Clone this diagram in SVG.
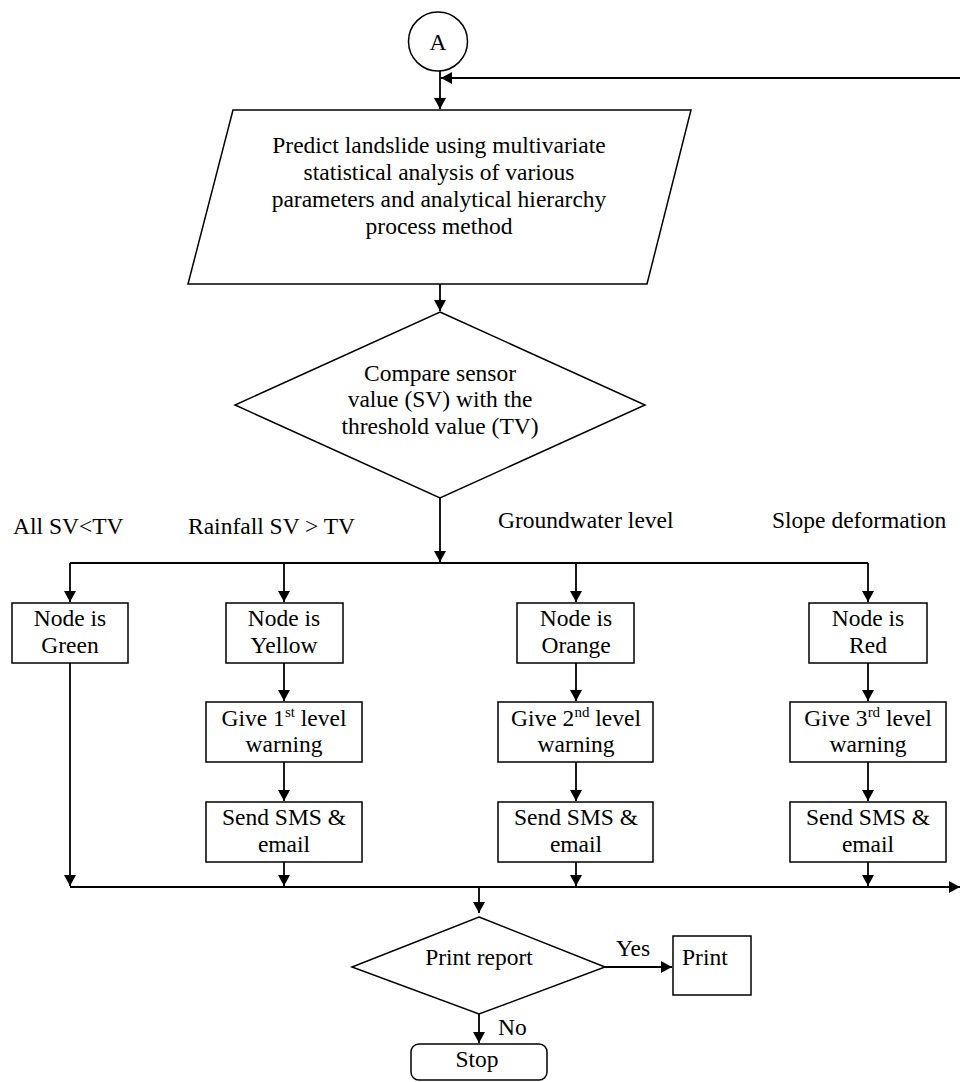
<svg xmlns="http://www.w3.org/2000/svg" width="960" height="1082" viewBox="0 0 960 1082">
<style>
  .shape { fill: #fff; stroke: #000; stroke-width: 1.5; }
  .conn { fill: none; stroke: #000; stroke-width: 1.8; }
  text { font-family: "Liberation Serif", "Times New Roman", serif; font-size: 23.5px; fill: #000; }
  .c { text-anchor: middle; }
</style>
<defs>
  <marker id="arr" viewBox="0 0 11 12" refX="11" refY="6" markerWidth="11" markerHeight="12" markerUnits="userSpaceOnUse" orient="auto">
    <path d="M0,0 L11,6 L0,12 z" fill="#000"/>
  </marker>
</defs>
<rect width="960" height="1082" fill="#fff"/>

<g id="connectors">
  <path class="conn" d="M440,71 V109" marker-end="url(#arr)"/>
  <path class="conn" d="M960,78 H441" marker-end="url(#arr)"/>
  <path class="conn" d="M440,284 V311" marker-end="url(#arr)"/>
  <path class="conn" d="M440,498 V562" marker-end="url(#arr)"/>
  <path class="conn" d="M70,563 H868"/>
  <path class="conn" d="M70,563 V602" marker-end="url(#arr)"/>
  <path class="conn" d="M284,563 V602" marker-end="url(#arr)"/>
  <path class="conn" d="M576,563 V602" marker-end="url(#arr)"/>
  <path class="conn" d="M868,563 V602" marker-end="url(#arr)"/>
  <path class="conn" d="M284,663 V701" marker-end="url(#arr)"/>
  <path class="conn" d="M576,663 V701" marker-end="url(#arr)"/>
  <path class="conn" d="M868,663 V701" marker-end="url(#arr)"/>
  <path class="conn" d="M284,762 V801" marker-end="url(#arr)"/>
  <path class="conn" d="M576,762 V801" marker-end="url(#arr)"/>
  <path class="conn" d="M868,762 V801" marker-end="url(#arr)"/>
  <path class="conn" d="M70,663 V886" marker-end="url(#arr)"/>
  <path class="conn" d="M284,862 V886" marker-end="url(#arr)"/>
  <path class="conn" d="M576,862 V886" marker-end="url(#arr)"/>
  <path class="conn" d="M868,862 V886" marker-end="url(#arr)"/>
  <path class="conn" d="M70,887 H960" marker-end="url(#arr)"/>
  <path class="conn" d="M479,887 V913" marker-end="url(#arr)"/>
  <path class="conn" d="M605,967 H672" marker-end="url(#arr)"/>
  <path class="conn" d="M479,1005 V1043" marker-end="url(#arr)"/>
</g>

<g id="labels">
  <text x="13" y="534">All SV&lt;TV</text>
  <text x="188" y="534">Rainfall SV &gt; TV</text>
  <text x="498" y="528">Groundwater level</text>
  <text x="772" y="528">Slope deformation</text>
  <text x="616" y="956">Yes</text>
  <text x="498" y="1035">No</text>
</g>

<g id="nodeA">
  <circle class="shape" cx="438" cy="41.5" r="29.5"/>
  <text class="c" x="438" y="50">A</text>
</g>

<g id="predict">
  <polygon class="shape" points="233,110 691,110 647,284 188,284"/>
  <text class="c" x="439" y="153">Predict landslide using multivariate</text>
  <text class="c" x="439" y="180">statistical analysis of various</text>
  <text class="c" x="439" y="207">parameters and analytical hierarchy</text>
  <text class="c" x="439" y="234">process method</text>
</g>

<g id="compare">
  <polygon class="shape" points="440,312 645,405 440,498 235,405"/>
  <text class="c" x="440" y="381">Compare sensor</text>
  <text class="c" x="440" y="407">value (SV) with the</text>
  <text class="c" x="440" y="434">threshold value (TV)</text>
</g>

<g id="green">
  <rect class="shape" x="12" y="603" width="116" height="60"/>
  <text class="c" x="70" y="626">Node is</text>
  <text class="c" x="70" y="653">Green</text>
</g>

<g id="yellow">
  <rect class="shape" x="226" y="603" width="117" height="60"/>
  <text class="c" x="284" y="626">Node is</text>
  <text class="c" x="284" y="653">Yellow</text>
</g>
<g id="warn1">
  <rect class="shape" x="206" y="702" width="156" height="60"/>
  <text class="c" x="284" y="726">Give 1<tspan font-size="15" dy="-9">st</tspan><tspan dy="9"> level</tspan></text>
  <text class="c" x="284" y="752">warning</text>
</g>
<g id="sms1">
  <rect class="shape" x="206" y="802" width="156" height="60"/>
  <text class="c" x="284" y="825">Send SMS &amp;</text>
  <text class="c" x="284" y="852">email</text>
</g>

<g id="orange">
  <rect class="shape" x="517" y="603" width="117" height="60"/>
  <text class="c" x="576" y="626">Node is</text>
  <text class="c" x="576" y="653">Orange</text>
</g>
<g id="warn2">
  <rect class="shape" x="498" y="702" width="155" height="60"/>
  <text class="c" x="576" y="726">Give 2<tspan font-size="15" dy="-9">nd</tspan><tspan dy="9"> level</tspan></text>
  <text class="c" x="576" y="752">warning</text>
</g>
<g id="sms2">
  <rect class="shape" x="498" y="802" width="155" height="60"/>
  <text class="c" x="576" y="825">Send SMS &amp;</text>
  <text class="c" x="576" y="852">email</text>
</g>

<g id="red">
  <rect class="shape" x="809" y="603" width="118" height="60"/>
  <text class="c" x="868" y="626">Node is</text>
  <text class="c" x="868" y="653">Red</text>
</g>
<g id="warn3">
  <rect class="shape" x="790" y="702" width="156" height="60"/>
  <text class="c" x="868" y="726">Give 3<tspan font-size="15" dy="-9">rd</tspan><tspan dy="9"> level</tspan></text>
  <text class="c" x="868" y="752">warning</text>
</g>
<g id="sms3">
  <rect class="shape" x="790" y="802" width="156" height="60"/>
  <text class="c" x="868" y="825">Send SMS &amp;</text>
  <text class="c" x="868" y="852">email</text>
</g>

<g id="printReport">
  <polygon class="shape" points="479,917 605,967 479,1014 352,967"/>
  <text class="c" x="479" y="965">Print report</text>
</g>
<g id="print">
  <rect class="shape" x="673" y="936" width="78" height="59"/>
  <text x="682" y="965">Print</text>
</g>
<g id="stop">
  <rect class="shape" x="411" y="1044" width="136" height="36" rx="8"/>
  <text class="c" x="477" y="1067">Stop</text>
</g>
</svg>
